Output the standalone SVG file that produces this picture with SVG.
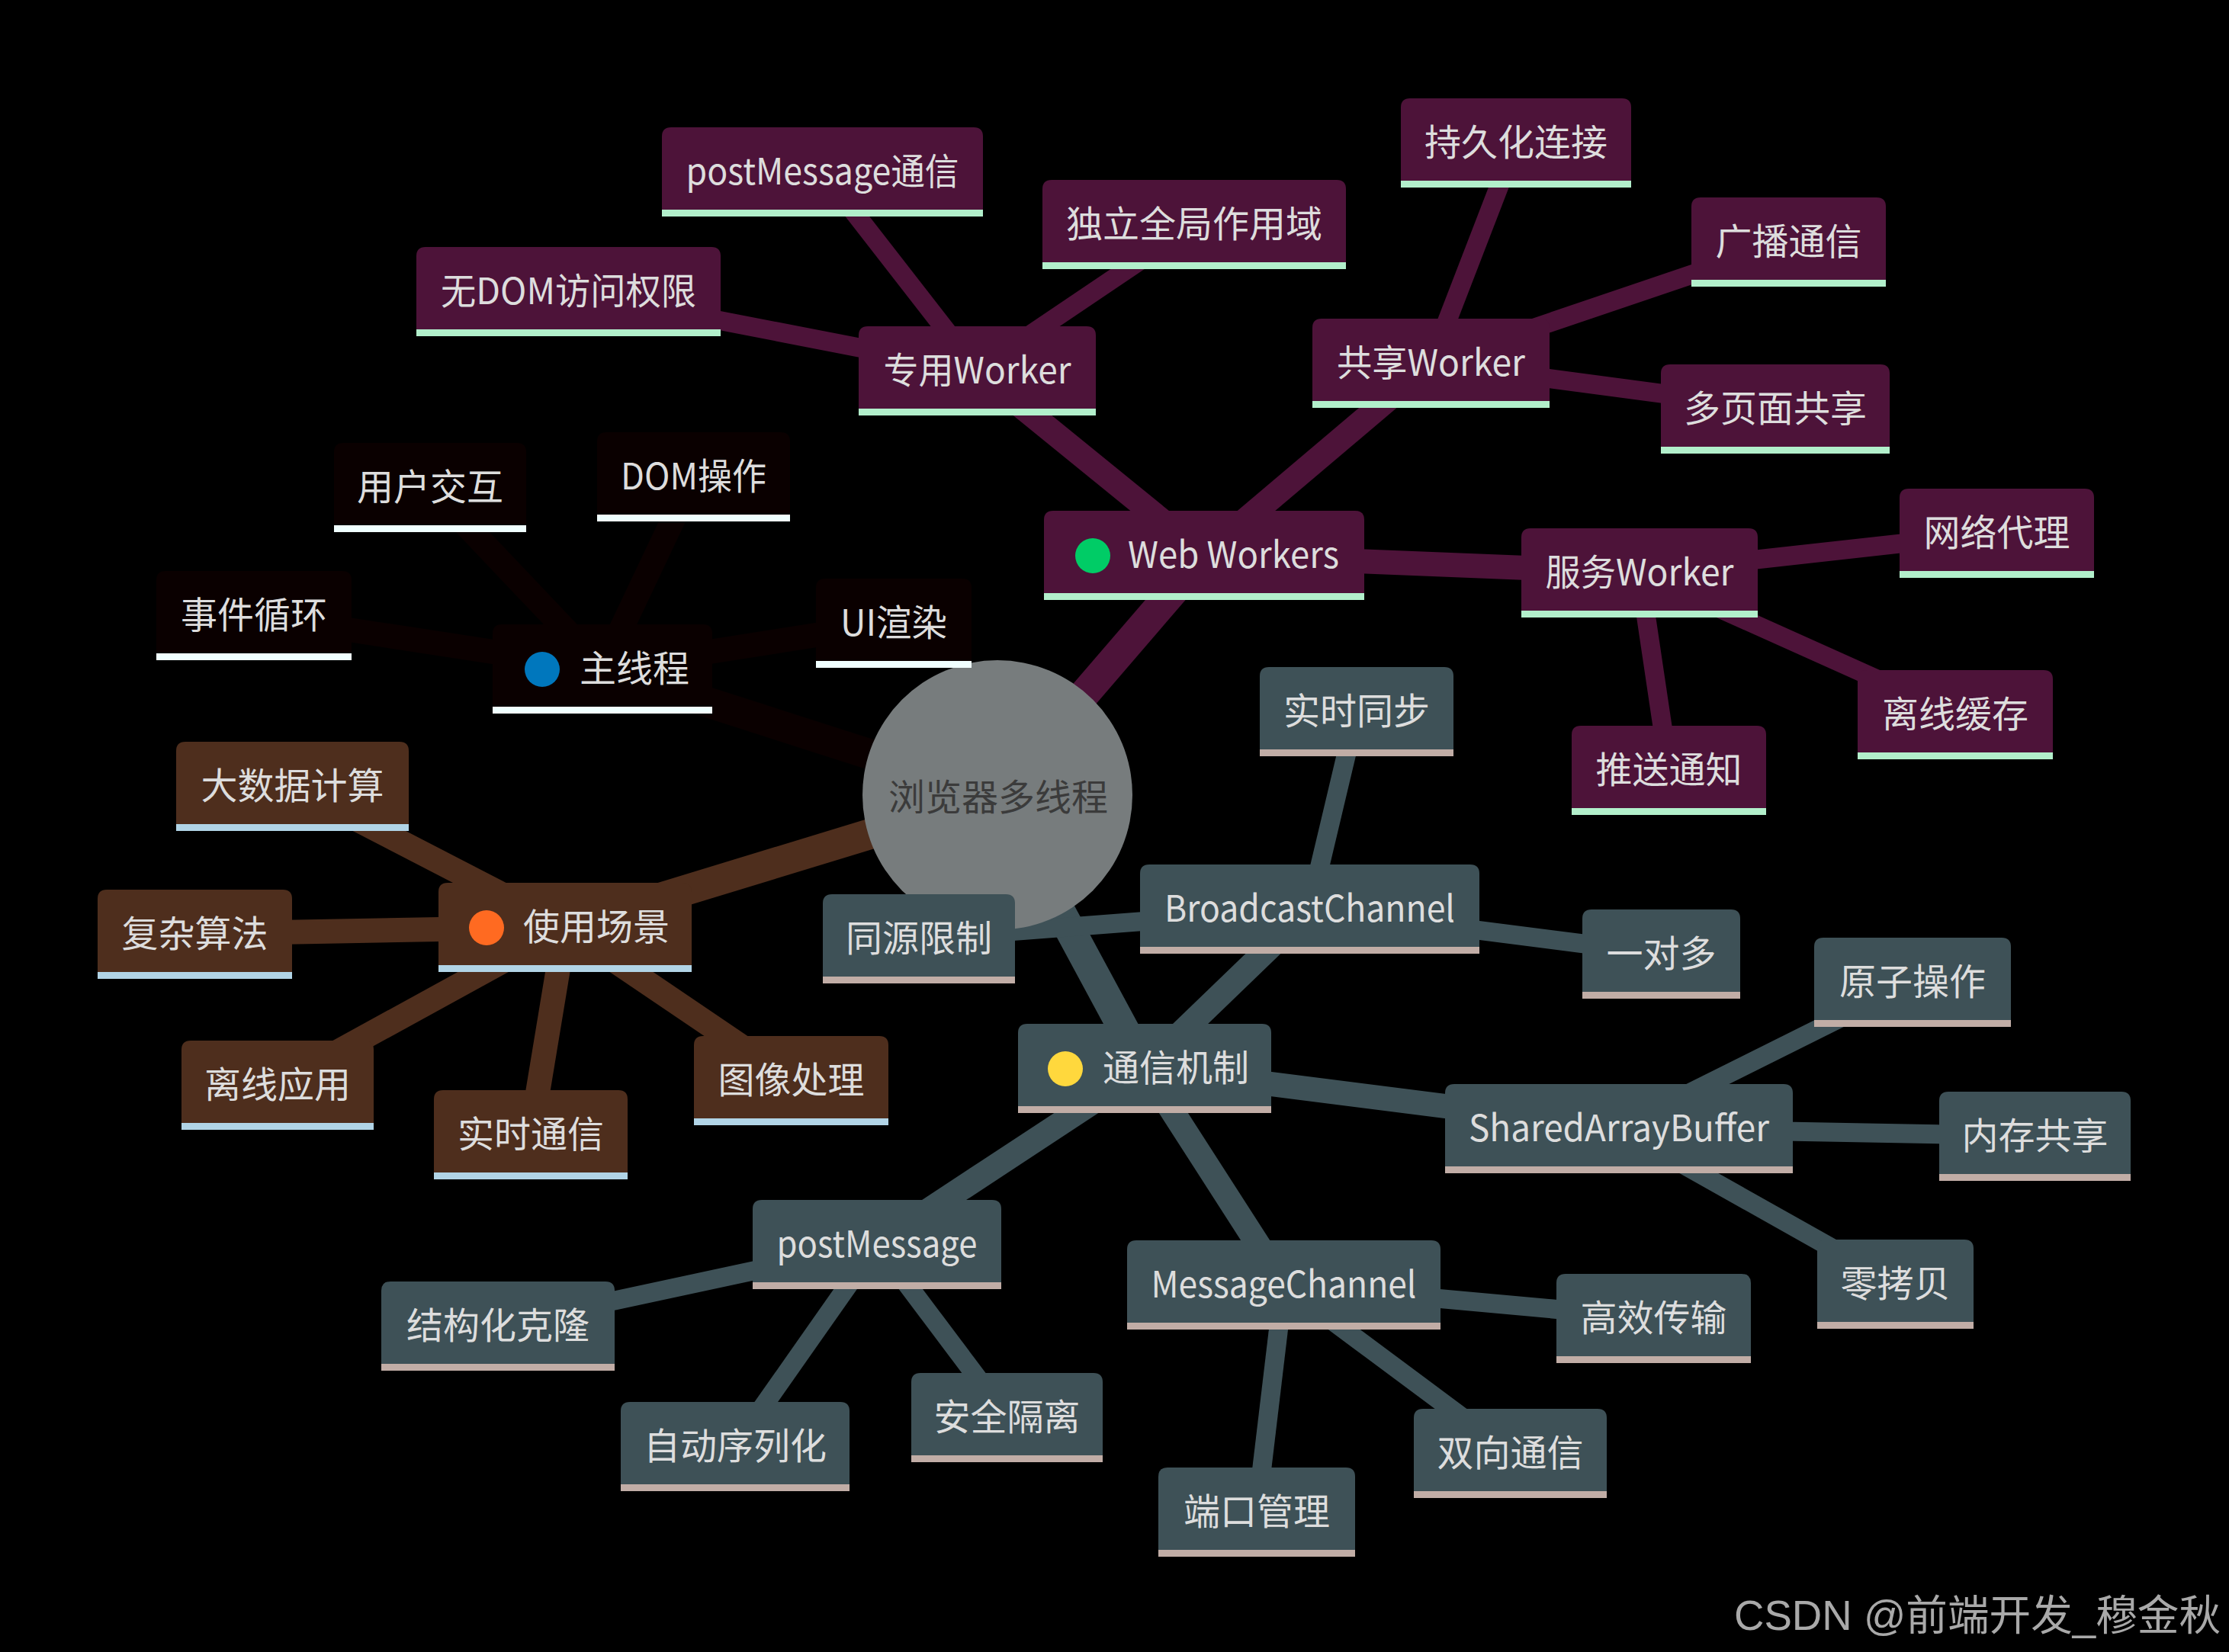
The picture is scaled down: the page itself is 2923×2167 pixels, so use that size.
<svg xmlns="http://www.w3.org/2000/svg" width="2923" height="2167" viewBox="0 0 2923 2167">
<style>
.bg{fill:#000}
.ww{fill:#4d1339}.mt{fill:#0a0000}.us{fill:#4e2e1d}.cm{fill:#3e5157}
.uww{fill:#b2efcb}.umt{fill:#f0ffff}.uus{fill:#b1d4e6}.ucm{fill:#c1ada6}
.lww{stroke:#4d1339}.lmt{stroke:#0a0000}.lus{stroke:#4e2e1d}.lcm{stroke:#3e5157}
.l0{stroke-width:40;fill:none}.l1{stroke-width:32;fill:none}.l2{stroke-width:25;fill:none}
.t{font-family:"Noto Sans CJK SC","Noto Sans",sans-serif;font-size:48px;fill:#dddddd}
.c{text-anchor:middle}
.root{fill:#777c7d}
.rt{font-family:"Noto Sans CJK SC",sans-serif;font-size:48px;fill:#3b3b3b;text-anchor:middle}
.wm{font-family:"Liberation Sans","Noto Sans CJK SC",sans-serif;font-size:55px;fill:#a9a9a9}
</style>
<rect class="bg" x="0" y="0" width="2923" height="2167"/>
<g id="connectors">
<line class="lww l0" x1="1308" y1="1043" x2="1579" y2="728"/>
<line class="lmt l0" x1="1308" y1="1043" x2="790" y2="877"/>
<line class="lus l0" x1="1308" y1="1043" x2="741" y2="1216"/>
<line class="lcm l0" x1="1308" y1="1043" x2="1501" y2="1401"/>
<line class="lww l1" x1="1579" y1="728" x2="1281.5" y2="486"/>
<line class="lww l1" x1="1579" y1="728" x2="1876.5" y2="476"/>
<line class="lww l1" x1="1579" y1="728" x2="2150" y2="751"/>
<line class="lmt l1" x1="790" y1="877" x2="564" y2="639"/>
<line class="lmt l1" x1="790" y1="877" x2="909.5" y2="625"/>
<line class="lmt l1" x1="790" y1="877" x2="333" y2="807"/>
<line class="lmt l1" x1="790" y1="877" x2="1172" y2="817"/>
<line class="lus l1" x1="741" y1="1216" x2="383.5" y2="1031"/>
<line class="lus l1" x1="741" y1="1216" x2="255.5" y2="1225"/>
<line class="lus l1" x1="741" y1="1216" x2="364" y2="1423"/>
<line class="lus l1" x1="741" y1="1216" x2="696" y2="1488"/>
<line class="lus l1" x1="741" y1="1216" x2="1037.5" y2="1417"/>
<line class="lcm l1" x1="1501" y1="1401" x2="1717.5" y2="1192"/>
<line class="lcm l1" x1="1501" y1="1401" x2="2123" y2="1480"/>
<line class="lcm l1" x1="1501" y1="1401" x2="1683.5" y2="1685"/>
<line class="lcm l1" x1="1501" y1="1401" x2="1150" y2="1632"/>
<line class="lww l2" x1="1281.5" y1="486" x2="745.5" y2="382"/>
<line class="lww l2" x1="1281.5" y1="486" x2="1078.5" y2="225"/>
<line class="lww l2" x1="1281.5" y1="486" x2="1566" y2="294"/>
<line class="lww l2" x1="1876.5" y1="476" x2="1988" y2="187"/>
<line class="lww l2" x1="1876.5" y1="476" x2="2345.5" y2="317"/>
<line class="lww l2" x1="1876.5" y1="476" x2="2328" y2="536"/>
<line class="lww l2" x1="2150" y1="751" x2="2618.5" y2="699"/>
<line class="lww l2" x1="2150" y1="751" x2="2564" y2="937"/>
<line class="lww l2" x1="2150" y1="751" x2="2188.5" y2="1010"/>
<line class="lcm l2" x1="1717.5" y1="1192" x2="1779" y2="933"/>
<line class="lcm l2" x1="1717.5" y1="1192" x2="2178.5" y2="1251"/>
<line class="lcm l2" x1="1717.5" y1="1192" x2="1205" y2="1231"/>
<line class="lcm l2" x1="2123" y1="1480" x2="2508" y2="1288"/>
<line class="lcm l2" x1="2123" y1="1480" x2="2668.5" y2="1490"/>
<line class="lcm l2" x1="2123" y1="1480" x2="2485.5" y2="1684"/>
<line class="lcm l2" x1="1683.5" y1="1685" x2="2168.5" y2="1729"/>
<line class="lcm l2" x1="1683.5" y1="1685" x2="1980.5" y2="1906"/>
<line class="lcm l2" x1="1683.5" y1="1685" x2="1648" y2="1983"/>
<line class="lcm l2" x1="1150" y1="1632" x2="653" y2="1739"/>
<line class="lcm l2" x1="1150" y1="1632" x2="964" y2="1897"/>
<line class="lcm l2" x1="1150" y1="1632" x2="1320.5" y2="1859"/>
</g>
<g id="root"><circle class="root" cx="1308" cy="1043" r="177"/><text class="rt" x="1309" y="1063">浏览器多线程</text></g>

<g id="web-workers"><path class="ww" d="M1369,778V682Q1369,670 1381,670H1777Q1789,670 1789,682V778Z"/><rect class="uww" x="1369" y="778" width="420" height="9"/><circle cx="1433" cy="729" r="23" fill="#00cc66"/><text class="t" x="1479" y="745" textLength="277" lengthAdjust="spacingAndGlyphs">Web Workers</text></g>
<g id="dedicated-worker"><path class="ww" d="M1126,536V440Q1126,428 1138,428H1425Q1437,428 1437,440V536Z"/><rect class="uww" x="1126" y="536" width="311" height="9"/><text class="t c" x="1281.5" y="503" textLength="246" lengthAdjust="spacingAndGlyphs">专用Worker</text></g>
<g id="no-dom"><path class="ww" d="M546,432V336Q546,324 558,324H933Q945,324 945,336V432Z"/><rect class="uww" x="546" y="432" width="399" height="9"/><text class="t c" x="745.5" y="399" textLength="335" lengthAdjust="spacingAndGlyphs">无DOM访问权限</text></g>
<g id="postmessage-comm"><path class="ww" d="M868,275V179Q868,167 880,167H1277Q1289,167 1289,179V275Z"/><rect class="uww" x="868" y="275" width="421" height="9"/><text class="t c" x="1078.5" y="242" textLength="358" lengthAdjust="spacingAndGlyphs">postMessage通信</text></g>
<g id="global-scope"><path class="ww" d="M1367,344V248Q1367,236 1379,236H1753Q1765,236 1765,248V344Z"/><rect class="uww" x="1367" y="344" width="398" height="9"/><text class="t c" x="1566" y="311">独立全局作用域</text></g>
<g id="shared-worker"><path class="ww" d="M1721,526V430Q1721,418 1733,418H2020Q2032,418 2032,430V526Z"/><rect class="uww" x="1721" y="526" width="311" height="9"/><text class="t c" x="1876.5" y="493" textLength="247" lengthAdjust="spacingAndGlyphs">共享Worker</text></g>
<g id="persistent"><path class="ww" d="M1837,237V141Q1837,129 1849,129H2127Q2139,129 2139,141V237Z"/><rect class="uww" x="1837" y="237" width="302" height="9"/><text class="t c" x="1988" y="204">持久化连接</text></g>
<g id="broadcast"><path class="ww" d="M2218,367V271Q2218,259 2230,259H2461Q2473,259 2473,271V367Z"/><rect class="uww" x="2218" y="367" width="255" height="9"/><text class="t c" x="2345.5" y="334">广播通信</text></g>
<g id="multi-page"><path class="ww" d="M2178,586V490Q2178,478 2190,478H2466Q2478,478 2478,490V586Z"/><rect class="uww" x="2178" y="586" width="300" height="9"/><text class="t c" x="2328" y="553">多页面共享</text></g>
<g id="service-worker"><path class="ww" d="M1995,801V705Q1995,693 2007,693H2293Q2305,693 2305,705V801Z"/><rect class="uww" x="1995" y="801" width="310" height="9"/><text class="t c" x="2150" y="768" textLength="247" lengthAdjust="spacingAndGlyphs">服务Worker</text></g>
<g id="proxy"><path class="ww" d="M2491,749V653Q2491,641 2503,641H2734Q2746,641 2746,653V749Z"/><rect class="uww" x="2491" y="749" width="255" height="9"/><text class="t c" x="2618.5" y="716">网络代理</text></g>
<g id="offline-cache"><path class="ww" d="M2436,987V891Q2436,879 2448,879H2680Q2692,879 2692,891V987Z"/><rect class="uww" x="2436" y="987" width="256" height="9"/><text class="t c" x="2564" y="954">离线缓存</text></g>
<g id="push"><path class="ww" d="M2061,1060V964Q2061,952 2073,952H2304Q2316,952 2316,964V1060Z"/><rect class="uww" x="2061" y="1060" width="255" height="9"/><text class="t c" x="2188.5" y="1027">推送通知</text></g>

<g id="main-thread"><path class="mt" d="M646,927V831Q646,819 658,819H922Q934,819 934,831V927Z"/><rect class="umt" x="646" y="927" width="288" height="9"/><circle cx="711" cy="878" r="23" fill="#0077bd"/><text class="t" x="760" y="894">主线程</text></g>
<g id="user-interaction"><path class="mt" d="M438,689V593Q438,581 450,581H678Q690,581 690,593V689Z"/><rect class="umt" x="438" y="689" width="252" height="9"/><text class="t c" x="564" y="656">用户交互</text></g>
<g id="dom-op"><path class="mt" d="M783,675V579Q783,567 795,567H1024Q1036,567 1036,579V675Z"/><rect class="umt" x="783" y="675" width="253" height="9"/><text class="t c" x="909.5" y="642" textLength="191" lengthAdjust="spacingAndGlyphs">DOM操作</text></g>
<g id="event-loop"><path class="mt" d="M205,857V761Q205,749 217,749H449Q461,749 461,761V857Z"/><rect class="umt" x="205" y="857" width="256" height="9"/><text class="t c" x="333" y="824">事件循环</text></g>
<g id="ui-render"><path class="mt" d="M1070,867V771Q1070,759 1082,759H1262Q1274,759 1274,771V867Z"/><rect class="umt" x="1070" y="867" width="204" height="9"/><text class="t c" x="1172" y="834" textLength="140" lengthAdjust="spacingAndGlyphs">UI渲染</text></g>

<g id="use-cases"><path class="us" d="M575,1266V1170Q575,1158 587,1158H895Q907,1158 907,1170V1266Z"/><rect class="uus" x="575" y="1266" width="332" height="9"/><circle cx="638" cy="1217" r="23" fill="#ff6a21"/><text class="t" x="686" y="1233">使用场景</text></g>
<g id="big-data"><path class="us" d="M231,1081V985Q231,973 243,973H524Q536,973 536,985V1081Z"/><rect class="uus" x="231" y="1081" width="305" height="9"/><text class="t c" x="383.5" y="1048">大数据计算</text></g>
<g id="algorithm"><path class="us" d="M128,1275V1179Q128,1167 140,1167H371Q383,1167 383,1179V1275Z"/><rect class="uus" x="128" y="1275" width="255" height="9"/><text class="t c" x="255.5" y="1242">复杂算法</text></g>
<g id="offline-app"><path class="us" d="M238,1473V1377Q238,1365 250,1365H478Q490,1365 490,1377V1473Z"/><rect class="uus" x="238" y="1473" width="252" height="9"/><text class="t c" x="364" y="1440">离线应用</text></g>
<g id="realtime-comm"><path class="us" d="M569,1538V1442Q569,1430 581,1430H811Q823,1430 823,1442V1538Z"/><rect class="uus" x="569" y="1538" width="254" height="9"/><text class="t c" x="696" y="1505">实时通信</text></g>
<g id="image"><path class="us" d="M910,1467V1371Q910,1359 922,1359H1153Q1165,1359 1165,1371V1467Z"/><rect class="uus" x="910" y="1467" width="255" height="9"/><text class="t c" x="1037.5" y="1434">图像处理</text></g>

<g id="communication"><path class="cm" d="M1335,1451V1355Q1335,1343 1347,1343H1655Q1667,1343 1667,1355V1451Z"/><rect class="ucm" x="1335" y="1451" width="332" height="9"/><circle cx="1397" cy="1402" r="23" fill="#ffd83d"/><text class="t" x="1446" y="1418">通信机制</text></g>
<g id="broadcastchannel"><path class="cm" d="M1495,1242V1146Q1495,1134 1507,1134H1928Q1940,1134 1940,1146V1242Z"/><rect class="ucm" x="1495" y="1242" width="445" height="9"/><text class="t c" x="1717.5" y="1209" textLength="381" lengthAdjust="spacingAndGlyphs">BroadcastChannel</text></g>
<g id="realtime-sync"><path class="cm" d="M1652,983V887Q1652,875 1664,875H1894Q1906,875 1906,887V983Z"/><rect class="ucm" x="1652" y="983" width="254" height="9"/><text class="t c" x="1779" y="950">实时同步</text></g>
<g id="one-to-many"><path class="cm" d="M2075,1301V1205Q2075,1193 2087,1193H2270Q2282,1193 2282,1205V1301Z"/><rect class="ucm" x="2075" y="1301" width="207" height="9"/><text class="t c" x="2178.5" y="1268">一对多</text></g>
<g id="same-origin"><path class="cm" d="M1079,1281V1185Q1079,1173 1091,1173H1319Q1331,1173 1331,1185V1281Z"/><rect class="ucm" x="1079" y="1281" width="252" height="9"/><text class="t c" x="1205" y="1248">同源限制</text></g>
<g id="sharedarraybuffer"><path class="cm" d="M1895,1530V1434Q1895,1422 1907,1422H2339Q2351,1422 2351,1434V1530Z"/><rect class="ucm" x="1895" y="1530" width="456" height="9"/><text class="t c" x="2123" y="1497" textLength="394" lengthAdjust="spacingAndGlyphs">SharedArrayBuffer</text></g>
<g id="atomics"><path class="cm" d="M2379,1338V1242Q2379,1230 2391,1230H2625Q2637,1230 2637,1242V1338Z"/><rect class="ucm" x="2379" y="1338" width="258" height="9"/><text class="t c" x="2508" y="1305">原子操作</text></g>
<g id="memory-share"><path class="cm" d="M2543,1540V1444Q2543,1432 2555,1432H2782Q2794,1432 2794,1444V1540Z"/><rect class="ucm" x="2543" y="1540" width="251" height="9"/><text class="t c" x="2668.5" y="1507">内存共享</text></g>
<g id="zero-copy"><path class="cm" d="M2383,1734V1638Q2383,1626 2395,1626H2576Q2588,1626 2588,1638V1734Z"/><rect class="ucm" x="2383" y="1734" width="205" height="9"/><text class="t c" x="2485.5" y="1701">零拷贝</text></g>
<g id="messagechannel"><path class="cm" d="M1478,1735V1639Q1478,1627 1490,1627H1877Q1889,1627 1889,1639V1735Z"/><rect class="ucm" x="1478" y="1735" width="411" height="9"/><text class="t c" x="1683.5" y="1702" textLength="348" lengthAdjust="spacingAndGlyphs">MessageChannel</text></g>
<g id="efficient"><path class="cm" d="M2041,1779V1683Q2041,1671 2053,1671H2284Q2296,1671 2296,1683V1779Z"/><rect class="ucm" x="2041" y="1779" width="255" height="9"/><text class="t c" x="2168.5" y="1746">高效传输</text></g>
<g id="bidirectional"><path class="cm" d="M1854,1956V1860Q1854,1848 1866,1848H2095Q2107,1848 2107,1860V1956Z"/><rect class="ucm" x="1854" y="1956" width="253" height="9"/><text class="t c" x="1980.5" y="1923">双向通信</text></g>
<g id="ports"><path class="cm" d="M1519,2033V1937Q1519,1925 1531,1925H1765Q1777,1925 1777,1937V2033Z"/><rect class="ucm" x="1519" y="2033" width="258" height="9"/><text class="t c" x="1648" y="2000">端口管理</text></g>
<g id="postmessage"><path class="cm" d="M987,1682V1586Q987,1574 999,1574H1301Q1313,1574 1313,1586V1682Z"/><rect class="ucm" x="987" y="1682" width="326" height="9"/><text class="t c" x="1150" y="1649" textLength="263" lengthAdjust="spacingAndGlyphs">postMessage</text></g>
<g id="structured-clone"><path class="cm" d="M500,1789V1693Q500,1681 512,1681H794Q806,1681 806,1693V1789Z"/><rect class="ucm" x="500" y="1789" width="306" height="9"/><text class="t c" x="653" y="1756">结构化克隆</text></g>
<g id="auto-serialize"><path class="cm" d="M814,1947V1851Q814,1839 826,1839H1102Q1114,1839 1114,1851V1947Z"/><rect class="ucm" x="814" y="1947" width="300" height="9"/><text class="t c" x="964" y="1914">自动序列化</text></g>
<g id="isolation"><path class="cm" d="M1195,1909V1813Q1195,1801 1207,1801H1434Q1446,1801 1446,1813V1909Z"/><rect class="ucm" x="1195" y="1909" width="251" height="9"/><text class="t c" x="1320.5" y="1876">安全隔离</text></g>

<text class="wm" x="2274" y="2138" textLength="638" lengthAdjust="spacingAndGlyphs">CSDN @前端开发_穆金秋</text>
</svg>
